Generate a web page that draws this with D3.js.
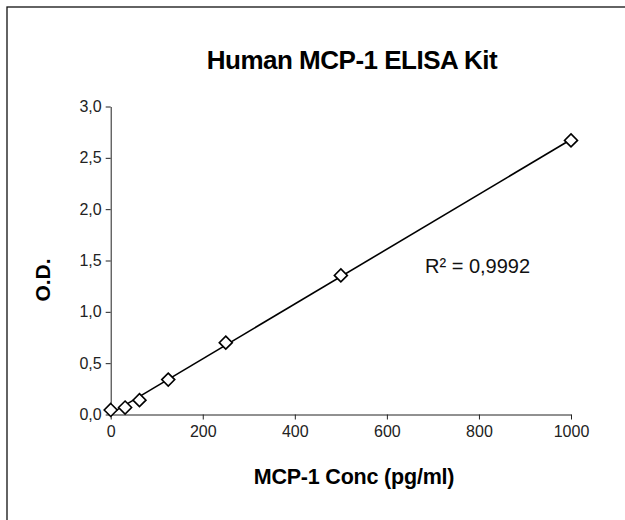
<!DOCTYPE html>
<html><head><meta charset="utf-8">
<script src="https://cdn.jsdelivr.net/npm/d3@7"></script>
<style>body{margin:0;background:#fff}svg{display:block}text{font-family:"Liberation Sans",Arial,sans-serif}</style>
</head><body><svg id="c" width="625" height="520"></svg>
<script>
const concentrations = [0, 31.25, 62.5, 125, 250, 500, 1000];
const odValues = [0.044, 0.068, 0.14, 0.34, 0.70, 1.355, 2.67];
const xTicks = [0, 200, 400, 600, 800, 1000];
const yTicks = [0, 0.5, 1.0, 1.5, 2.0, 2.5, 3.0];
const titleText = "Human MCP-1 ELISA Kit";
const xLabel = "MCP-1 Conc (pg/ml)";
const yLabel = "O.D.";
const r2Text = "R² = 0,9992";

const svg = d3.select("#c");
svg.append("rect").attr("x",7).attr("y",7).attr("width",800).attr("height",700)
  .attr("fill","#fff").attr("stroke","#111").attr("stroke-width",1.3);

const x = d3.scaleLinear().domain([0,1000]).range([110.7,571]);
const y = d3.scaleLinear().domain([0,3]).range([414.5,106.5]);
const fmt = d => d3.format(".1f")(d).replace(".", ",");

const xa = svg.append("g").attr("transform",`translate(0,${y(0)})`)
  .call(d3.axisBottom(x).tickValues(xTicks).tickSize(5).tickSizeOuter(0).tickPadding(6).tickFormat(d3.format("d")));
const ya = svg.append("g").attr("transform",`translate(${x(0)},0)`)
  .call(d3.axisLeft(y).tickValues(yTicks).tickSize(5).tickSizeOuter(0).tickPadding(4).tickFormat(fmt));
[xa,ya].forEach(g=>{
  g.selectAll("path,line").attr("stroke","#222").attr("stroke-width",1);
  g.selectAll("text").attr("font-size",16).attr("fill","#222").attr("font-family","Liberation Sans, Arial, sans-serif");
});

// linear trend line (least squares)
const n = concentrations.length;
const mx = d3.mean(concentrations), my = d3.mean(odValues);
let sxy=0,sxx=0;
for(let i=0;i<n;i++){sxy+=(concentrations[i]-mx)*(odValues[i]-my);sxx+=(concentrations[i]-mx)**2;}
const slope = sxy/sxx, icpt = my - slope*mx;
svg.append("line").attr("x1",x(0)).attr("y1",y(icpt)).attr("x2",x(1000)).attr("y2",y(icpt+slope*1000))
  .attr("stroke","#000").attr("stroke-width",1.6);

const pts = concentrations.map((c,i)=>[c,odValues[i]]);
svg.selectAll("path.pt").data(pts).enter().append("path").attr("class","pt")
  .attr("d","M0,-6.5L6.5,0L0,6.5L-6.5,0Z")
  .attr("transform",d=>`translate(${x(d[0])},${y(d[1])})`)
  .attr("fill","#fff").attr("stroke","#000").attr("stroke-width",1.6);

svg.append("text").attr("x",352).attr("y",69).attr("text-anchor","middle")
  .attr("font-size",26).attr("letter-spacing",-0.5).attr("font-weight","bold").attr("fill","#000").text(titleText);
svg.append("text").attr("x",354).attr("y",484).attr("text-anchor","middle")
  .attr("font-size",21.5).attr("letter-spacing",-0.2).attr("font-weight","bold").attr("fill","#000").text(xLabel);
svg.append("text").attr("transform","translate(50,280) rotate(-90)").attr("text-anchor","middle")
  .attr("font-size",21).attr("font-weight","bold").attr("fill","#000").text(yLabel);
svg.append("text").attr("x",425).attr("y",273).attr("font-size",20).attr("fill","#111").text(r2Text);
</script></body></html>
